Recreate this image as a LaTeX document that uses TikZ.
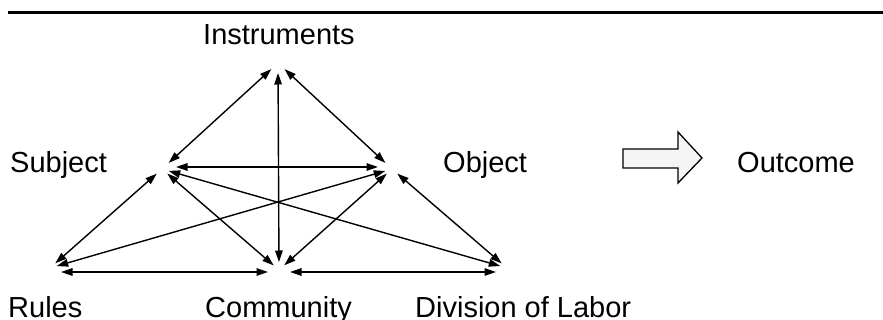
\documentclass[tikz,border=0pt]{standalone}
\usepackage{fontspec}
\setmainfont{Liberation Sans}
\usetikzlibrary{arrows.meta}
\begin{document}
\begin{tikzpicture}[x=1pt,y=-1pt,
  lbl/.style={anchor=base west,inner sep=0pt,font=\fontsize{29}{33}\selectfont},
  link/.style={line width=1.4pt,{Triangle[length=11.5pt,width=7.5pt]}-{Triangle[length=11.5pt,width=7.5pt]},shorten <=#1,shorten >=#1},
  link/.default=7pt,
  bigarrow/.style={draw=black,line width=1.3pt,fill=black!4,line join=miter}]
\useasboundingbox (0,0) rectangle (883,320);
% top rule
\coordinate (ruleL) at (8,12.5);
\coordinate (ruleR) at (883,12.5);
\draw[line width=2.2pt] (ruleL) -- (ruleR);
% labels
\node[lbl] (tInstr) at (203,45) {Instruments};
\node[lbl] (tSubj) at (10,173) {Subject};
\node[lbl] (tObj) at (443,173) {Object};
\node[lbl] (tOut) at (737,173) {Outcome};
\node[lbl] (tRules) at (8,317) {Rules};
\node[lbl] (tComm) at (205,317) {Community};
\node[lbl] (tDiv) at (415,317) {Division of Labor};
% vertices
\coordinate (I) at (278,63);
\coordinate (S) at (162,169);
\coordinate (O) at (392,169);
\coordinate (R) at (50,268);
\coordinate (C) at (279,270);
\coordinate (D) at (507,268);
% connectors
\draw[link=9pt] (I) -- (S);
\draw[link=9pt] (I) -- (O);
\draw[link, shorten <=10pt, shorten >=8pt] (I) -- (C);
\draw[link=14pt] ([yshift=2pt]S) -- ([yshift=2pt]O);
\draw[link] (S) -- (R);
\draw[link] (S) -- (C);
\draw[link] (S) -- (D);
\draw[link] (O) -- (R);
\draw[link] (O) -- (C);
\draw[link] (O) -- (D);
\draw[link=11pt] ([yshift=-4pt]R) -- ([yshift=-2pt]C);
\draw[link=11pt] ([yshift=-2pt]C) -- ([yshift=-4pt]D);
% hollow arrow
\draw[bigarrow] (623,149) -- (678,149) -- (678,132) -- (702,158) -- (678,183) -- (678,168) -- (623,168) -- cycle;
\end{tikzpicture}
\end{document}
